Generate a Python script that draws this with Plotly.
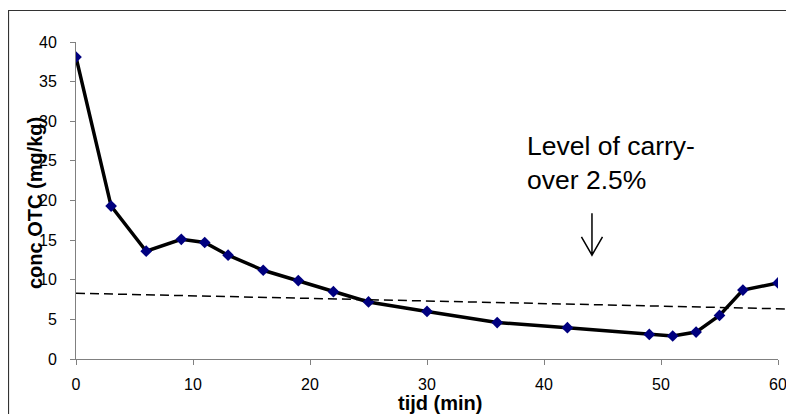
import plotly.graph_objects as go

# data
tijd = [0, 3, 6, 9, 11, 13, 16, 19, 22, 25, 30, 36, 42, 49, 51, 53, 55, 57, 60]
conc = [38.1, 19.3, 13.6, 15.1, 14.7, 13.1, 11.2, 9.9, 8.5, 7.2, 6.0, 4.6, 3.95, 3.1, 2.9, 3.4, 5.5, 8.7, 9.6]
carry_x = [0, 61.3]
carry_y = [8.3, 6.3]
x_ticks = [0, 10, 20, 30, 40, 50, 60]
y_ticks = [0, 5, 10, 15, 20, 25, 30, 35, 40]
XR = [0, 60]
YR = [0, 40]

OFF = 8  # default page body margin
W, H = 794 - OFF, 414 - OFF
ML, MT = 76 - OFF, 42 - OFF
MR, MB = W - (778 - OFF), H - (359 - OFF)
PW, PH = W - ML - MR, H - MT - MB

def px2paper_x(p):  # p: page pixel
    return (p - OFF - ML) / PW

def px2paper_y(p):
    return (H - MB - (p - OFF)) / PH

FONT = "Liberation Sans, Arial, sans-serif"
AXC = "#808080"

fig = go.Figure()
fig.add_trace(go.Scatter(
    x=tijd, y=conc, mode="lines+markers",
    line=dict(color="black", width=3.5),
    marker=dict(symbol="diamond", size=9, color="#00007f"),
    showlegend=False, hoverinfo="x+y",
))

# carry-over level (dashed), extends slightly beyond axis end
fig.add_shape(type="line", xref="paper", yref="y",
              x0=(carry_x[0] - XR[0]) / (XR[1] - XR[0]), y0=carry_y[0],
              x1=(carry_x[1] - XR[0]) / (XR[1] - XR[0]), y1=carry_y[1],
              line=dict(color="black", width=1.5, dash="9px,5px"))

# arrow pointing at the dashed line
ax_x, ay_top, ay_bot, ay_head, a_half = 44.1, 18.4, 13.1, 15.4, 0.9
fig.add_shape(type="path", xref="x", yref="y",
              path=f"M{ax_x},{ay_top} L{ax_x},{ay_bot} M{ax_x - a_half},{ay_head} L{ax_x},{ay_bot} L{ax_x + a_half},{ay_head}",
              line=dict(color="black", width=1.5))

fig.add_annotation(x=38.4, y=29.0, xref="x", yref="y", xanchor="left", yanchor="top",
                   text="Level of carry-<br>over 2.5%", showarrow=False, align="left",
                   font=dict(family=FONT, size=26.5, color="black"))

# axis titles
fig.add_annotation(x=px2paper_x(35), y=px2paper_y(203), xref="paper", yref="paper",
                   text="<b>conc OTC (mg/kg)</b>", textangle=-90, showarrow=False,
                   xanchor="center", yanchor="middle",
                   font=dict(family=FONT, size=20, color="black"))
fig.add_annotation(x=px2paper_x(440), y=px2paper_y(403), xref="paper", yref="paper",
                   text="<b>tijd (min)</b>", showarrow=False,
                   xanchor="center", yanchor="middle",
                   font=dict(family=FONT, size=20, color="black"))

# outer frame
fig.add_shape(type="rect", xref="paper", yref="paper", layer="below",
              x0=px2paper_x(8.5), y0=px2paper_y(H + 30), x1=px2paper_x(W + 30), y1=px2paper_y(10.5),
              line=dict(color="#333333", width=1.2), fillcolor="rgba(0,0,0,0)")

fig.update_layout(
    width=W, height=H,
    margin=dict(l=ML, r=MR, t=MT, b=MB, autoexpand=False),
    paper_bgcolor="white", plot_bgcolor="white",
    font=dict(family=FONT, size=16, color="black"),
    xaxis=dict(range=XR, tickvals=x_ticks, ticks="outside", ticklen=5, tickcolor=AXC,
               showline=True, linecolor=AXC, linewidth=1, showgrid=False, zeroline=False,
               tickfont=dict(size=16), ticklabelstandoff=6),
    yaxis=dict(range=YR, tickvals=y_ticks, ticks="outside", ticklen=5, tickcolor=AXC,
               showline=True, linecolor=AXC, linewidth=1, showgrid=False, zeroline=False,
               tickfont=dict(size=16), ticklabelstandoff=10),
)

fig.write_html("out.html")
